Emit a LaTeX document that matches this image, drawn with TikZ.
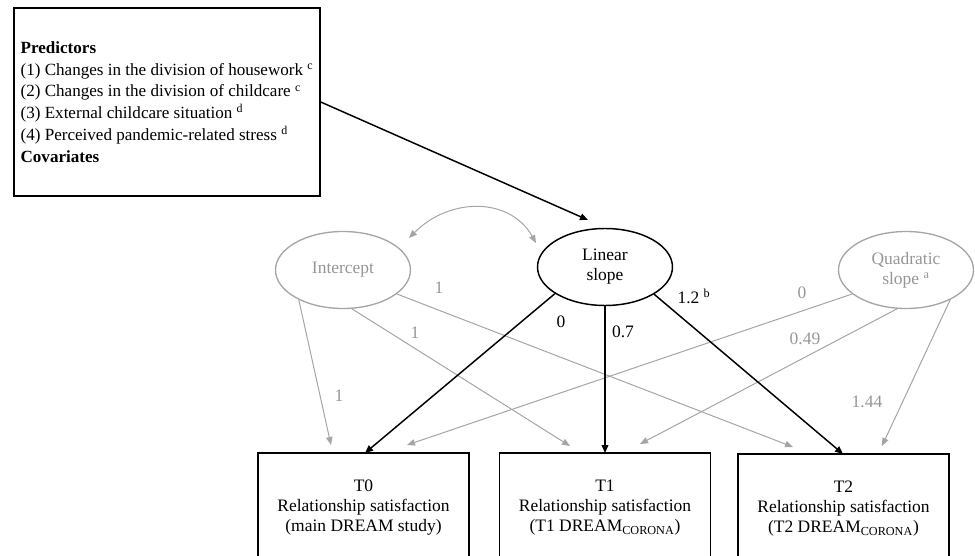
\documentclass[tikz,border=0pt]{standalone}
\usepackage{fontspec}
\setmainfont{Liberation Serif}
\usetikzlibrary{arrows.meta,shapes.geometric}
\definecolor{lgray}{RGB}{165,165,165}
\definecolor{tgray}{RGB}{150,150,150}
\begin{document}
\begin{tikzpicture}[x=0.75pt,y=-0.75pt,
  every node/.style={font=\fontsize{13.1pt}{15pt}\selectfont},
  lat/.style={ellipse, draw, minimum width=101.25pt, minimum height=57.75pt, inner sep=0pt, align=center},
  latgray/.style={lat, draw=lgray, line width=1pt, text=tgray},
  latblack/.style={lat, draw=black, line width=1.1pt},
  obs/.style={rectangle, draw, line width=1.1pt, minimum width=158.25pt, minimum height=82.5pt, align=center, inner sep=0pt},
  blk/.style={line width=1.1pt, -{Triangle[length=6pt,width=5pt]}},
  gry/.style={color=lgray, line width=0.75pt, -{Triangle[length=6pt,width=4.8pt]}},
  glab/.style={text=tgray, inner sep=0pt},
  blab/.style={text=black, inner sep=0pt},
]
\useasboundingbox (0,0) rectangle (975,556);
\clip (0,0) rectangle (975,556);

% predictors box
\node[draw, line width=1.1pt, minimum width=229.5pt, minimum height=141pt, align=left,
  inner xsep=2pt, inner ysep=0pt,
  font=\fontsize{12.8pt}{16.4pt}\selectfont] (P) at (167,102)
  {\textbf{Predictors}\\
   (1) Changes in the division of housework \textsuperscript{c}\\
   (2) Changes in the division of childcare \textsuperscript{c}\\
   (3) External childcare situation \textsuperscript{d}\\
   (4) Perceived pandemic-related stress \textsuperscript{d}\\
   \textbf{Covariates}};

% latent variables
\node[latgray]  (I) at (343,270) {Intercept};
\node[latblack] (L) at (605,267) {Linear\\slope};
\node[latgray]  (Q) at (906,270) {Quadratic\\slope \textsuperscript{a}};

% observed variables
\node[obs] (T0) at (363.5,508) {T0\\Relationship satisfaction\\(main DREAM study)};
\node[obs] (T1) at (605,508) {T1\\Relationship satisfaction\\(T1 DREAM\textsubscript{CORONA})};
\node[obs] (T2) at (843.5,509) {T2\\Relationship satisfaction\\(T2 DREAM\textsubscript{CORONA})};

% end points
\coordinate (pE) at (588,220);
\coordinate (cA) at (409,238);
\coordinate (cB) at (536,243);
\coordinate (g1) at (331,445);
\coordinate (g2) at (570,446);
\coordinate (g3) at (793,447);
\coordinate (g4) at (407,445);
\coordinate (g5) at (640,444);
\coordinate (g6) at (882,446);
\coordinate (b0) at (365,453);
\coordinate (b1) at (605,453);
\coordinate (b2) at (843,454);

% predictor arrow
\draw[blk] (P.east) -- (pE);

% covariance
\draw[color=lgray, line width=0.75pt, {Triangle[length=6pt,width=4.8pt]}-{Triangle[length=6pt,width=4.8pt]}]
  (cA) .. controls (450,197) and (510,197) .. (cB);

% gray loadings
\draw[gry] (I.214) -- (g1);
\draw[gry] (I.283) -- (g2);
\draw[gry] (I.336) -- (g3);
\draw[gry] (Q.204) -- (g4);
\draw[gry] (Q.257) -- (g5);
\draw[gry] (Q.326) -- (g6);

% black loadings
\draw[blk] (L.208) -- (b0);
\draw[blk] (L.south) -- (b1);
\draw[blk] (L.331) -- (b2);

% labels
\node[glab] (l1) at (439,288) {1};
\node[glab] (l2) at (415,333) {1};
\node[glab] (l3) at (339,396) {1};
\node[blab] (l4) at (561,322) {0};
\node[blab] (l5) at (623,332) {0.7};
\node[blab] (l6) at (694,296) {1.2 \textsuperscript{b}};
\node[glab] (l7) at (802,293) {0};
\node[glab] (l8) at (805,339) {0.49};
\node[glab] (l9) at (867,402) {1.44};
\end{tikzpicture}
\end{document}
